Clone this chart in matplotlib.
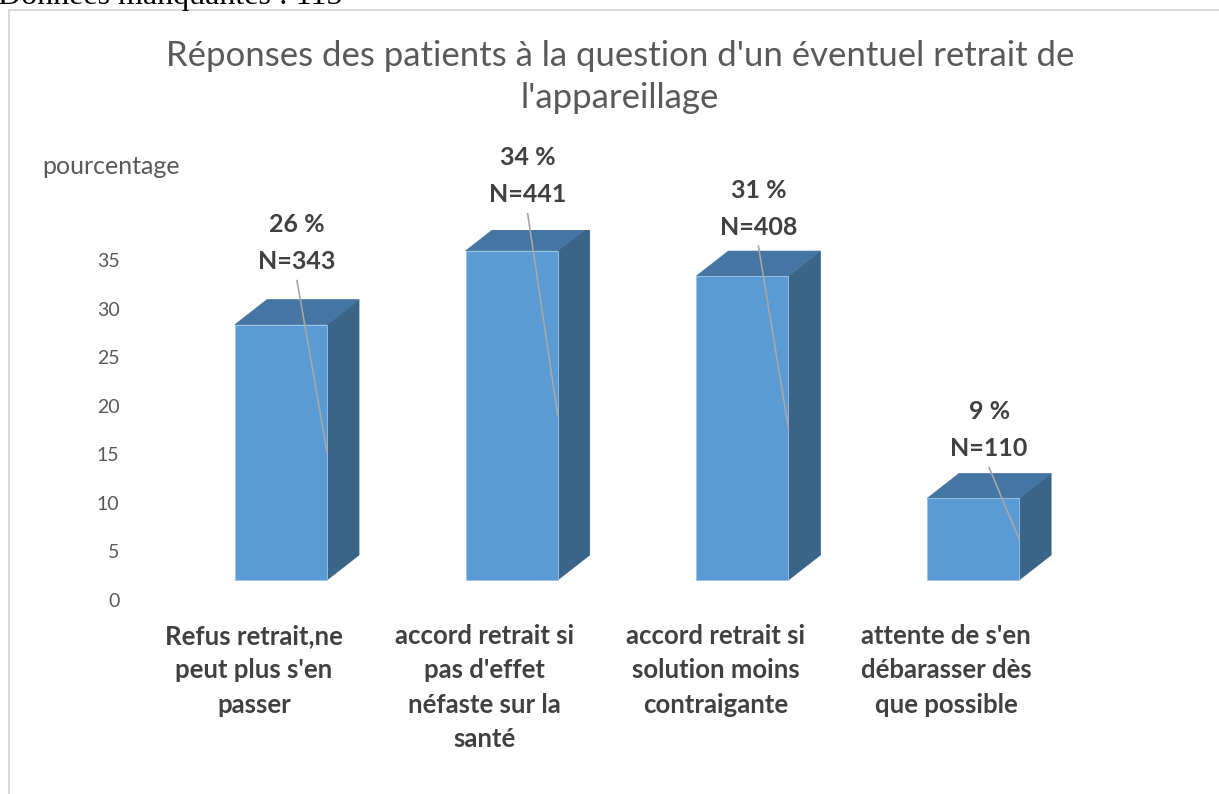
import matplotlib
matplotlib.use("Agg")
import matplotlib.pyplot as plt
from matplotlib.patches import Polygon, Rectangle

# ---- data ----
categories = [
    "Refus retrait,ne\npeut plus s'en\npasser",
    "accord retrait si\npas d'effet\nnéfaste sur la\nsanté",
    "accord retrait si\nsolution moins\ncontraigante",
    "attente de s'en\ndébarasser dès\nque possible",
]
percent_values = [26.3, 33.9, 31.3, 8.4]
pct_labels = ["26 %", "34 %", "31 %", "9 %"]
n_labels = ["N=343", "N=441", "N=408", "N=110"]
yticks = [0, 5, 10, 15, 20, 25, 30, 35]

title = "Réponses des patients à la question d'un éventuel retrait de\nl'appareillage"
ylabel = "pourcentage"
note = "Données manquantes : 115"

# ---- style / layout constants ----
W, H = 1219, 794
PXY = 9.71          # pixels per value unit
ZERO_PX = 600       # pixel row of the value 0 label
PXX = 230.7         # pixels per category step
X0_PX = 281         # pixel column of the first bar front centre
FLOOR = 2.06        # front face floor offset (3D floor) in value units
BAR_W = 0.399
DEPTH_X = 32 / PXX
DEPTH_Y = 25 / PXY
LABEL_LIFT_PX = [63, 56, 49, 50]
LINE_GAP_PX = 37
LEADER_GAP_PX = 19

FRONT = "#5B9BD5"
TOP = "#4575A2"
SIDE = "#3A6488"
EDGE = "#9DC3E6"
TXT = "#404040"
GRAY = "#595959"
FONT = "Lato"

fig = plt.figure(figsize=(W / 100, H / 100), dpi=100)
fig.patch.set_facecolor("white")

ax_left, ax_right = 150, 1100
ax_top, ax_bot = 230, 620
ax = fig.add_axes([ax_left / W, (H - ax_bot) / H,
                   (ax_right - ax_left) / W, (ax_bot - ax_top) / H])
ax.set_xlim((ax_left - X0_PX) / PXX, (ax_right - X0_PX) / PXX)
ax.set_ylim((ZERO_PX - ax_bot) / PXY, (ZERO_PX - ax_top) / PXY)
for s in ax.spines.values():
    s.set_visible(False)
ax.set_xticks([])
ax.set_yticks(yticks)
ax.set_yticklabels([str(t) for t in yticks], fontfamily=FONT, fontsize=14, color=GRAY)
ax.tick_params(axis="y", length=0, pad=22)
ax.patch.set_alpha(0)

for i, v in enumerate(percent_values):
    x0 = i - BAR_W / 2
    b = FLOOR
    top_y = b + v
    front = Rectangle((x0, b), BAR_W, v, facecolor=FRONT, edgecolor=EDGE, lw=0.6, zorder=3)
    topf = Polygon([(x0, top_y), (x0 + BAR_W, top_y),
                    (x0 + BAR_W + DEPTH_X, top_y + DEPTH_Y), (x0 + DEPTH_X, top_y + DEPTH_Y)],
                   closed=True, facecolor=TOP, edgecolor=TOP, lw=0.5, zorder=2)
    side = Polygon([(x0 + BAR_W, b), (x0 + BAR_W + DEPTH_X, b + DEPTH_Y),
                    (x0 + BAR_W + DEPTH_X, top_y + DEPTH_Y), (x0 + BAR_W, top_y)],
                   closed=True, facecolor=SIDE, edgecolor=SIDE, lw=0.5, zorder=2)
    for p in (side, topf, front):
        ax.add_patch(p)

    cx = i + DEPTH_X / 2
    n_y = top_y + LABEL_LIFT_PX[i] / PXY
    ax.text(cx, n_y, n_labels[i], ha="center", va="center", fontfamily=FONT,
            fontweight="bold", fontsize=18, color=TXT, clip_on=False, zorder=5)
    ax.text(cx, n_y + LINE_GAP_PX / PXY, pct_labels[i], ha="center", va="center",
            fontfamily=FONT, fontweight="bold", fontsize=18, color=TXT, clip_on=False, zorder=5)
    ax.plot([cx, x0 + BAR_W], [n_y - LEADER_GAP_PX / PXY, b + v / 2],
            color="#A6A6A6", lw=1.2, zorder=4, clip_on=False)

    ax.text(i - 27 / PXX, (ZERO_PX - 624) / PXY, categories[i], ha="center", va="top",
            multialignment="center", fontfamily=FONT, fontweight="bold", fontsize=18.5,
            color=TXT, linespacing=1.52, clip_on=False)

# title, axis title, note
fig.text(620 / W, 1 - 77 / H, title, ha="center", va="center", fontfamily=FONT,
         fontsize=25, color=GRAY, linespacing=1.4)
fig.text(42 / W, 1 - 167 / H, ylabel, ha="left", va="center", fontfamily=FONT,
         fontsize=18, color=GRAY)
fig.text(-2 / W, 1 - 4 / H, note, ha="left", va="baseline", fontfamily="Liberation Serif",
         fontsize=23, color="black")

# chart frame
fig.add_artist(plt.Line2D([9 / W, 9 / W], [0, 1 - 10 / H], color="#D9D9D9", lw=1.5))
fig.add_artist(plt.Line2D([9 / W, 1], [1 - 10 / H, 1 - 10 / H], color="#D9D9D9", lw=1.5))

fig.savefig("out.png", dpi=100, facecolor="white")
